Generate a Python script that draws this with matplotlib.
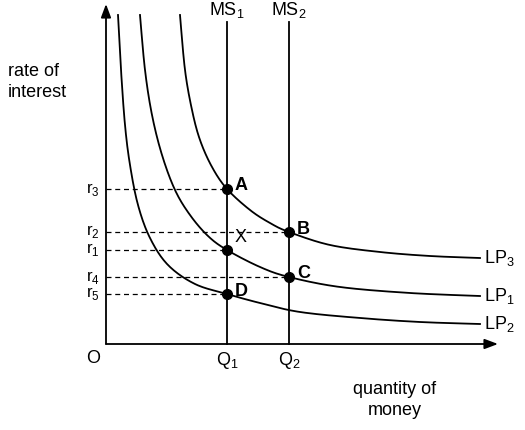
import matplotlib
matplotlib.use("Agg")
import matplotlib.pyplot as plt
import numpy as np

plt.rcParams['font.family'] = ['Liberation Sans', 'DejaVu Sans']
plt.rcParams['mathtext.fontset'] = 'custom'
plt.rcParams['mathtext.rm'] = 'Liberation Sans'

# schematic coordinates (pixel-like; x right, y down)
lp3 = [(180,15),(185,70),(192,110),(200,140),(212,167),(227,189),(250,210),(270,223),(289,232),(330,245),(380,252),(430,256),(480,258)]
lp1 = [(140,15),(145,70),(152,115),(162,155),(175,190),(190,215),(208,236),(227,250),(260,267),(289,277),(340,287),(410,293),(480,296)]
lp2 = [(118,15),(121,70),(125,125),(130,165),(138,205),(150,238),(168,265),(195,284),(227,294),(260,303),(300,312),(360,318),(420,322),(480,324)]
ms_x = {'MS$_1$': 227, 'MS$_2$': 289}
q_labels = {'Q$_1$': 227, 'Q$_2$': 289}
points = {'A': (227,189), 'B': (289,232), 'X': (227,250), 'C': (289,277), 'D': (227,294)}
r_levels = [('r$_3$',189,227),('r$_2$',232,289),('r$_1$',250,227),('r$_4$',277,289),('r$_5$',294,227)]

def smooth(pts, n=20):
    p = np.array(pts, float)
    p = np.vstack([p[0], p, p[-1]])
    out = []
    for i in range(1, len(p)-2):
        p0,p1,p2,p3 = p[i-1],p[i],p[i+1],p[i+2]
        for t in np.linspace(0,1,n,endpoint=False):
            out.append(0.5*((2*p1)+(-p0+p2)*t+(2*p0-5*p1+4*p2-p3)*t**2+(-p0+3*p1-3*p2+p3)*t**3))
    out.append(p[-2])
    return np.array(out)

fig = plt.figure(figsize=(5.25,4.3), dpi=100)
ax = fig.add_axes([0,0,1,1])
ax.set_xlim(0,525); ax.set_ylim(430,0); ax.axis('off')

ox, oy = 106, 344
ax.annotate('', xy=(ox,4), xytext=(ox,oy), arrowprops=dict(arrowstyle='-|>,head_width=0.3,head_length=0.8', color='k', lw=1.3, shrinkA=0, shrinkB=0))
ax.annotate('', xy=(498,oy), xytext=(ox,oy), arrowprops=dict(arrowstyle='-|>,head_width=0.3,head_length=0.8', color='k', lw=1.3, shrinkA=0, shrinkB=0))

for name, x in ms_x.items():
    ax.plot([x,x],[22,oy], color='k', lw=1.3)
    ax.text(x, 20, name, ha='center', va='bottom', fontsize=13)
for name, x in q_labels.items():
    ax.text(x, 350, name, ha='center', va='top', fontsize=13)

for pts, lab in [(lp3,'LP$_3$'),(lp1,'LP$_1$'),(lp2,'LP$_2$')]:
    s = smooth(pts)
    ax.plot(s[:,0], s[:,1], color='k', lw=1.3)
    ax.text(484, pts[-1][1], lab, ha='left', va='center', fontsize=13)

for lab, y, xe in r_levels:
    ax.plot([ox, xe],[y,y], color='k', lw=0.9, ls=(0,(4,3)))
    ax.text(100, y, lab, ha='right', va='center', fontsize=12)

for k,(x,y) in points.items():
    ax.plot(x,y,'o',color='k',ms=7)
    ax.text(x+8, y-12 if k == 'X' else y-3, k, ha='left', va='center', fontsize=13,
            fontweight='normal' if k=='X' else 'bold')

ax.text(8, 82, 'rate of\ninterest', ha='left', va='center', fontsize=13, linespacing=1.3)
ax.text(93, 350, 'O', ha='center', va='top', fontsize=13)
ax.text(395, 400, 'quantity of\nmoney', ha='center', va='center', fontsize=13, linespacing=1.3)

fig.savefig('out.png', dpi=100)
